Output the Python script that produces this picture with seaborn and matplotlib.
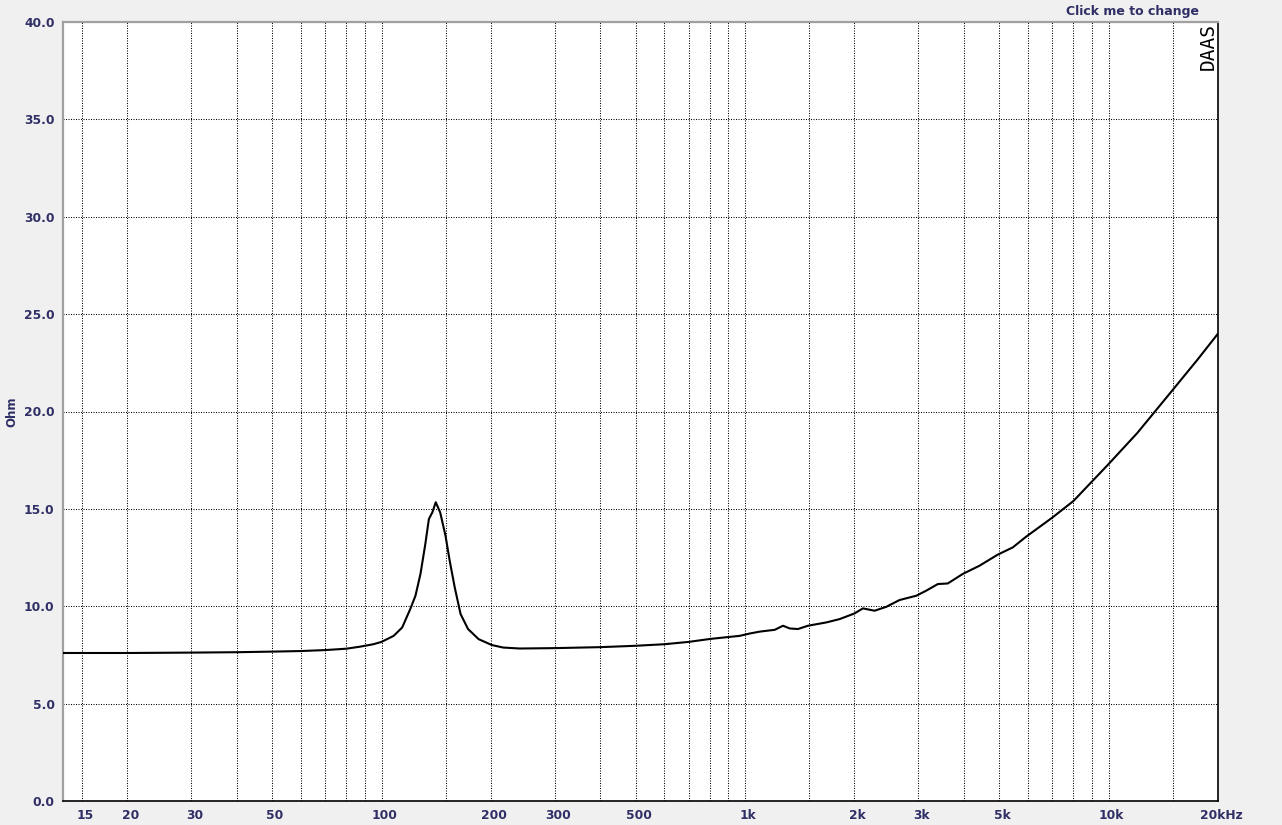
import matplotlib
matplotlib.use("Agg")
import matplotlib.pyplot as plt
import matplotlib.transforms as mtransforms
import seaborn as sns

# impedance curve (Hz, Ohm)
freq = [13.3, 20, 30, 40, 50, 60, 70, 80, 87, 95, 100, 108, 114, 120, 124, 128,
        132, 135, 138, 141, 145, 150, 154, 159, 165, 173, 185, 201, 216, 240,
        300, 400, 500, 600, 700, 800, 900, 967, 1030, 1100, 1207, 1272, 1327,
        1398, 1490, 1674, 1820, 2000, 2110, 2272, 2446, 2661, 2958, 3151, 3391,
        3612, 3972, 4414, 4956, 5450, 5931, 6251, 7000, 8000, 10000, 12000,
        15000, 17560, 20000]
ohm = [7.60, 7.60, 7.62, 7.64, 7.67, 7.70, 7.75, 7.82, 7.92, 8.05, 8.17, 8.48,
       8.91, 9.86, 10.54, 11.66, 13.20, 14.48, 14.82, 15.34, 14.82, 13.62, 12.34,
       10.97, 9.60, 8.83, 8.31, 8.01, 7.88, 7.83, 7.85, 7.90, 7.97, 8.05, 8.17,
       8.32, 8.42, 8.48, 8.60, 8.70, 8.79, 9.00, 8.86, 8.83, 9.00, 9.17, 9.34,
       9.63, 9.89, 9.77, 9.97, 10.32, 10.54, 10.80, 11.14, 11.17, 11.66, 12.08,
       12.65, 13.02, 13.57, 13.88, 14.55, 15.40, 17.30, 18.90, 21.10, 22.66, 24.0]

# grid positions and the ones that carry a label
x_grid = [15, 20, 30, 40, 50, 60, 70, 80, 90, 100, 150, 200, 300, 400, 500, 600,
          700, 800, 900, 1000, 1500, 2000, 3000, 4000, 5000, 6000, 7000, 8000,
          9000, 10000, 15000, 20000]
x_labels = {15: "15", 20: "20", 30: "30", 50: "50", 100: "100", 200: "200",
            300: "300", 500: "500", 1000: "1k", 2000: "2k", 3000: "3k",
            5000: "5k", 10000: "10k", 20000: "20kHz"}
y_ticks = [0, 5, 10, 15, 20, 25, 30, 35, 40]

sns.set_style("white")
plt.rcParams["font.family"] = ["DejaVu Sans"]

navy = "#2f2f66"
fig = plt.figure(figsize=(12.82, 8.25), dpi=100, facecolor="#f0f0f0")
ax = fig.add_axes([63 / 1282, 24 / 825, 1155 / 1282, 779 / 825])
ax.set_facecolor("white")

sns.lineplot(x=freq, y=ohm, ax=ax, color="black", linewidth=1.5, sort=False,
             zorder=3)

ax.set_xscale("log")
ax.set_xlim(13.3, 20000)
ax.set_ylim(0, 40)

ax.set_xticks(x_grid)
ax.set_xticklabels([x_labels.get(v, "") for v in x_grid])
ax.set_xticks([], minor=True)
ax.set_yticks(y_ticks)
ax.set_yticklabels([f"{v:.1f}" for v in y_ticks])
ax.tick_params(axis="both", length=0, labelsize=8.8, labelcolor=navy)
ax.tick_params(axis="x", pad=6)
ax.tick_params(axis="y", pad=6)
shift = mtransforms.ScaledTranslation(3 / 100, 0, fig.dpi_scale_trans)
for lab in ax.get_xticklabels():
    lab.set_fontweight("bold")
    lab.set_transform(lab.get_transform() + shift)
for lab in ax.get_yticklabels():
    lab.set_fontweight("bold")

ax.grid(True, which="major", color="black", linestyle=(0, (1, 1.4)),
        linewidth=0.75)
ax.set_axisbelow(True)

for side in ["left", "top"]:
    ax.spines[side].set_color("#a0a0a0")
    ax.spines[side].set_linewidth(1.6)
for side in ["right", "bottom"]:
    ax.spines[side].set_color("black")
    ax.spines[side].set_linewidth(1.2)

ax.set_xlabel("")
ax.set_ylabel("")
fig.text(12 / 1282, 1 - 412 / 825, "Ohm", rotation=90, ha="center",
         va="center", color=navy, fontsize=8.5, fontweight="bold")
fig.text(1132 / 1282, 1 - 11 / 825, "Click me to change", ha="center",
         va="center", color=navy, fontsize=9, fontweight="bold")
fig.text(1208 / 1282, 1 - 47 / 825, "DAAS", rotation=90, ha="center",
         va="center", color="black", fontsize=14, family="DejaVu Sans Mono",
         fontweight="light")

fig.savefig("out.png", dpi=100, facecolor=fig.get_facecolor())
